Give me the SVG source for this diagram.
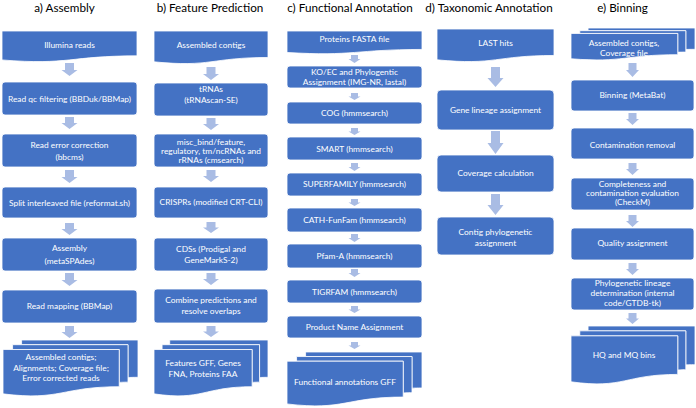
<svg xmlns="http://www.w3.org/2000/svg" width="696" height="408" viewBox="0 0 696 408">
<style>
.bg{fill:#ffffff}
.box{fill:#4472C4;stroke:#ffffff;stroke-width:0.8}
.arr{fill:#A9BCE4}
.t{font-family:Lato,"Liberation Sans",sans-serif;font-size:8.4px;fill:#ffffff;text-anchor:middle}
.h{font-family:Lato,"Liberation Sans",sans-serif;font-size:11.7px;fill:#000000;text-anchor:middle}
</style>
<rect class="bg" x="0" y="0" width="696" height="408"/>
<g id="titles">
<text class="h" x="64.5" y="11.5">a) Assembly</text>
<text class="h" x="210" y="11.5">b) Feature Prediction</text>
<text class="h" x="350" y="11.5">c) Functional Annotation</text>
<text class="h" x="489" y="11.5">d) Taxonomic Annotation</text>
<text class="h" x="622.5" y="11.5">e) Binning</text>
</g>
<g id="connectors">
<path class="arr" d="M65,63H74V70H77.5L69.5,76L61.5,70H65Z"/>
<path class="arr" d="M65,117H74V123H77.5L69.5,129L61.5,123H65Z"/>
<path class="arr" d="M65,170H74V177H77.5L69.5,183L61.5,177H65Z"/>
<path class="arr" d="M65,223H74V229H77.5L69.5,235L61.5,229H65Z"/>
<path class="arr" d="M65,273H74V280H77.5L69.5,286L61.5,280H65Z"/>
<path class="arr" d="M65,326H74V332H77.5L69.5,338L61.5,332H65Z"/>
<path class="arr" d="M206.5,67H215.5V74H219L211,80L203,74H206.5Z"/>
<path class="arr" d="M206.5,118H215.5V124H219L211,130L203,124H206.5Z"/>
<path class="arr" d="M206.5,170H215.5V176H219L211,182L203,176H206.5Z"/>
<path class="arr" d="M206.5,222H215.5V227.5H219L211,233L203,227.5H206.5Z"/>
<path class="arr" d="M206.5,273H215.5V279H219L211,285L203,279H206.5Z"/>
<path class="arr" d="M206.5,326H215.5V331.5H219L211,337L203,331.5H206.5Z"/>
<path class="arr" d="M351,55H358V59H360.5L354.5,63L348.5,59H351Z"/>
<path class="arr" d="M351,93H358V96.5H360.5L354.5,100L348.5,96.5H351Z"/>
<path class="arr" d="M351,128H358V131.5H360.5L354.5,135L348.5,131.5H351Z"/>
<path class="arr" d="M351,163H358V167H360.5L354.5,171L348.5,167H351Z"/>
<path class="arr" d="M351,199H358V202.5H360.5L354.5,206L348.5,202.5H351Z"/>
<path class="arr" d="M351,234H358V238H360.5L354.5,242L348.5,238H351Z"/>
<path class="arr" d="M351,269H358V273H360.5L354.5,277L348.5,273H351Z"/>
<path class="arr" d="M351,306H358V309.5H360.5L354.5,313L348.5,309.5H351Z"/>
<path class="arr" d="M351,342H358V345.5H360.5L354.5,349L348.5,345.5H351Z"/>
<path class="arr" d="M491,67H500V78H503.5L495.5,87L487.5,78H491Z"/>
<path class="arr" d="M491,131H500V143H503.5L495.5,154L487.5,143H491Z"/>
<path class="arr" d="M491,194H500V205H503.5L495.5,215L487.5,205H491Z"/>
<path class="arr" d="M628.5,63H636.5V70H639L632.5,77L626,70H628.5Z"/>
<path class="arr" d="M628.5,113H636.5V119H639L632.5,125L626,119H628.5Z"/>
<path class="arr" d="M628.5,163H636.5V169H639L632.5,175L626,169H628.5Z"/>
<path class="arr" d="M628.5,215H636.5V221H639L632.5,227L626,221H628.5Z"/>
<path class="arr" d="M628.5,263H636.5V269H639L632.5,275L626,269H628.5Z"/>
<path class="arr" d="M628.5,313H636.5V318.5H639L632.5,324L626,318.5H628.5Z"/>
</g>
<g id="a-illumina"><path class="box" d="M2,31H137V55.86C69.5,55.86 69.5,65.33 2,59.95Z"/><text class="t" x="69.5" y="47.5">Illumina reads</text></g>
<g id="a-qc"><rect class="box" x="2" y="82" width="135" height="33" rx="3"/><text class="t" x="69.5" y="101.5">Read qc filtering (BBDuk/BBMap)</text></g>
<g id="a-error"><rect class="box" x="2" y="134" width="135" height="33" rx="3"/><text class="t" x="69.5" y="147.5">Read error correction</text><text class="t" x="69.5" y="160">(bbcms)</text></g>
<g id="a-split"><rect class="box" x="2" y="187" width="135" height="31" rx="3"/><text class="t" x="69.5" y="206">Split interleaved file (reformat.sh)</text></g>
<g id="a-assembly"><rect class="box" x="2" y="238" width="135" height="33" rx="3"/><text class="t" x="69.5" y="251">Assembly</text><text class="t" x="69.5" y="264">(metaSPAdes)</text></g>
<g id="a-mapping"><rect class="box" x="2" y="290" width="135" height="33" rx="3"/><text class="t" x="69.5" y="309">Read mapping (BBMap)</text></g>
<g id="a-output">
<path class="box" d="M21.58,344.7L21.58,340L138,340L138,377.31C133,377.31 128,377.51 128,377.51L128,344.7Z"/>
<path class="box" d="M12.57,349.53L12.57,344.7L128,344.7L128,382.13C123.6,382.13 119.22,382.39 119.22,382.39L119.22,349.53Z"/>
<path class="box" d="M3,393.87C61.12,401.03 61.12,386.73 119.22,386.73L119.22,349.53L3,349.53Z"/>
<text class="t" x="61" y="360">Assembled contigs;</text><text class="t" x="61" y="370.5">Alignments; Coverage file;</text><text class="t" x="61" y="381">Error corrected reads</text>
</g>
<g id="b-contigs"><path class="box" d="M154,31H268V57.47C211,57.47 211,67.55 154,61.82Z"/><text class="t" x="211" y="48">Assembled contigs</text></g>
<g id="b-trna"><rect class="box" x="154" y="83" width="114" height="33" rx="3"/><text class="t" x="211" y="92">tRNAs</text><text class="t" x="211" y="103">(tRNAscan-SE)</text></g>
<g id="b-misc"><rect class="box" x="154" y="134" width="114" height="33" rx="3"/><text class="t" x="211" y="144.5">misc_bind/feature,</text><text class="t" x="211" y="153.5">regulatory, tm/ncRNAs and</text><text class="t" x="211" y="162.5">rRNAs (cmsearch)</text></g>
<g id="b-crispr"><rect class="box" x="154" y="187" width="114" height="31" rx="3"/><text class="t" x="211" y="205">CRISPRs (modified CRT-CLI)</text></g>
<g id="b-cds"><rect class="box" x="154" y="238" width="114" height="33" rx="3"/><text class="t" x="211" y="252">CDSs (Prodigal and</text><text class="t" x="211" y="262.5">GeneMarkS-2)</text></g>
<g id="b-combine"><rect class="box" x="154" y="289" width="114" height="34" rx="3"/><text class="t" x="211" y="303">Combine predictions and</text><text class="t" x="211" y="313.5">resolve overlaps</text></g>
<g id="b-output">
<path class="box" d="M169.69,344.7L169.69,340L268,340L268,377.31C263.78,377.31 259.55,377.51 259.55,377.51L259.55,344.7Z"/>
<path class="box" d="M162.08,349.53L162.08,344.7L259.55,344.7L259.55,382.13C255.85,382.13 252.14,382.39 252.14,382.39L252.14,349.53Z"/>
<path class="box" d="M154,393.87C203.08,401.03 203.08,386.73 252.14,386.73L252.14,349.53L154,349.53Z"/>
<text class="t" x="203" y="366">Features GFF, Genes</text><text class="t" x="203" y="376.5">FNA, Proteins FAA</text>
</g>
<g id="c-proteins"><path class="box" d="M287,31H422V49.45C354.5,49.45 354.5,56.47 287,52.48Z"/><text class="t" x="354.5" y="41.5">Proteins FASTA file</text></g>
<g id="c-ko"><rect class="box" x="287" y="66" width="135" height="22" rx="3"/><text class="t" x="354.5" y="75">KO/EC and Phylogentic</text><text class="t" x="354.5" y="85">Assignment (IMG-NR, lastal)</text></g>
<g id="c-cog"><rect class="box" x="287" y="102" width="135" height="22" rx="3"/><text class="t" x="354.5" y="116">COG (hmmsearch)</text></g>
<g id="c-smart"><rect class="box" x="287" y="137" width="135" height="23" rx="3"/><text class="t" x="354.5" y="151.5">SMART (hmmsearch)</text></g>
<g id="c-superfamily"><rect class="box" x="287" y="173" width="135" height="23" rx="3"/><text class="t" x="354.5" y="187">SUPERFAMILY (hmmsearch)</text></g>
<g id="c-cath"><rect class="box" x="287" y="208" width="135" height="24" rx="3"/><text class="t" x="354.5" y="223">CATH-FunFam (hmmsearch)</text></g>
<g id="c-pfam"><rect class="box" x="287" y="244" width="135" height="24" rx="3"/><text class="t" x="354.5" y="259">Pfam-A (hmmsearch)</text></g>
<g id="c-tigrfam"><rect class="box" x="287" y="280" width="135" height="23" rx="3"/><text class="t" x="354.5" y="294.5">TIGRFAM (hmmsearch)</text></g>
<g id="c-product"><rect class="box" x="287" y="316" width="135" height="22" rx="3"/><text class="t" x="354.5" y="330">Product Name Assignment</text></g>
<g id="c-output">
<path class="box" d="M305.58,356.54L305.58,352L422,352L422,387.98C417,387.98 412,388.17 412,388.17L412,356.54Z"/>
<path class="box" d="M296.57,361.19L296.57,356.54L412,356.54L412,392.63C407.6,392.63 403.22,392.88 403.22,392.88L403.22,361.19Z"/>
<path class="box" d="M287,403.95C345.12,410.85 345.12,397.06 403.22,397.06L403.22,361.19L287,361.19Z"/>
<text class="t" x="345" y="385">Functional annotations GFF</text>
</g>
<g id="d-last"><path class="box" d="M437,29H554V55.47C495.5,55.47 495.5,65.55 437,59.82Z"/><text class="t" x="495.5" y="46">LAST hits</text></g>
<g id="d-gene"><rect class="box" x="437" y="90" width="117" height="40" rx="4"/><text class="t" x="495.5" y="113">Gene lineage assignment</text></g>
<g id="d-coverage"><rect class="box" x="437" y="155" width="117" height="37" rx="4"/><text class="t" x="495.5" y="176">Coverage calculation</text></g>
<g id="d-contig"><rect class="box" x="437" y="217" width="117" height="38" rx="4"/><text class="t" x="495.5" y="235">Contig phylogenetic</text><text class="t" x="495.5" y="245.5">assignment</text></g>
<g id="e-input">
<path class="box" d="M588.06,30.69L588.06,28L695,28L695,49.32C690.41,49.32 685.81,49.43 685.81,49.43L685.81,30.69Z"/>
<path class="box" d="M579.79,33.44L579.79,30.69L685.81,30.69L685.81,52.08C681.78,52.08 677.75,52.22 677.75,52.22L677.75,33.44Z"/>
<path class="box" d="M571,58.78C624.38,62.88 624.38,54.7 677.75,54.7L677.75,33.44L571,33.44Z"/>
<text class="t" x="624" y="45.5">Assembled contigs,</text><text class="t" x="624" y="56">Coverage file</text>
</g>
<g id="e-binning"><rect class="box" x="571" y="80" width="123" height="31" rx="3"/><text class="t" x="632.5" y="98">Binning (MetaBat)</text></g>
<g id="e-contam"><rect class="box" x="571" y="128" width="123" height="31" rx="3"/><text class="t" x="632.5" y="148">Contamination removal</text></g>
<g id="e-complete"><rect class="box" x="571" y="178" width="123" height="32" rx="3"/><text class="t" x="632.5" y="187">Completeness and</text><text class="t" x="632.5" y="196">contamination evaluation</text><text class="t" x="632.5" y="205">(CheckM)</text></g>
<g id="e-quality"><rect class="box" x="571" y="228" width="123" height="32" rx="3"/><text class="t" x="632.5" y="246">Quality assignment</text></g>
<g id="e-phylo"><rect class="box" x="571" y="278" width="123" height="32" rx="3"/><text class="t" x="632.5" y="286">Phylogenetic lineage</text><text class="t" x="632.5" y="296">determination (internal</text><text class="t" x="632.5" y="306">code/GTDB-tk)</text></g>
<g id="e-output">
<path class="box" d="M588.06,330.87L588.06,326L695,326L695,364.65C690.41,364.65 685.81,364.85 685.81,364.85L685.81,330.87Z"/>
<path class="box" d="M579.79,335.87L579.79,330.87L685.81,330.87L685.81,369.64C681.78,369.64 677.75,369.91 677.75,369.91L677.75,335.87Z"/>
<path class="box" d="M571,381.8C624.38,389.21 624.38,374.4 677.75,374.4L677.75,335.87L571,335.87Z"/>
<text class="t" x="624" y="358">HQ and MQ bins</text>
</g>
</svg>
